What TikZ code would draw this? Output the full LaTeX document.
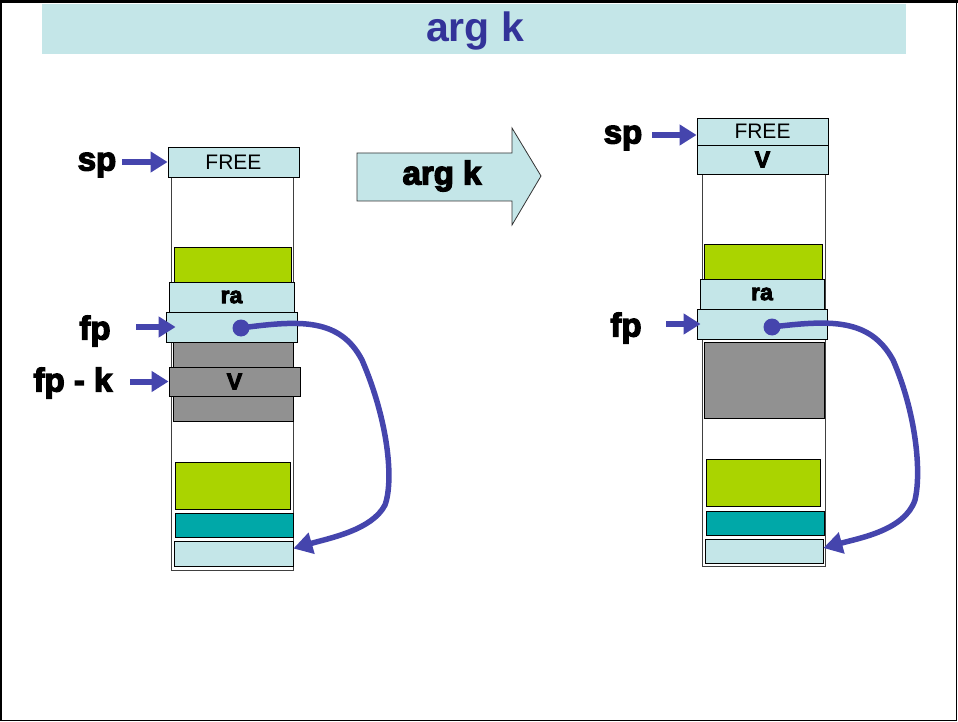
\documentclass[tikz,border=0pt]{standalone}
\usepackage{fontspec}
\setmainfont{Liberation Sans}
\newfontfamily\heavy{Liberation Sans Bold}[FakeBold=4]
\usetikzlibrary{arrows.meta}
\definecolor{paleblue}{HTML}{C4E6E8}
\definecolor{leaf}{HTML}{AAD400}
\definecolor{teal}{HTML}{00A8A8}
\definecolor{slot}{HTML}{919191}
\definecolor{ink}{HTML}{4545AD}
\definecolor{titleink}{HTML}{333399}
\tikzset{
  cell/.style={draw=black, line width=0.8pt, inner sep=0pt, fill=#1},
  column/.style={draw=black!75, line width=0.8pt, fill=white, inner sep=0pt},
  tag/.style={font=\heavy\fontsize{33}{34}\selectfont, inner sep=0pt},
  pointer/.style={draw=ink, line width=6pt, -{Triangle[length=17pt,width=20pt]}},
  link/.style={draw=ink, line width=5.5pt, -{Triangle[length=19pt,width=21pt]}},
  cellbold/.style={font=\heavy\fontsize{23}{24}\selectfont},
  cellplain/.style={font=\fontsize{21}{22}\selectfont}
}
\begin{document}
\begin{tikzpicture}[x=1pt,y=-1pt]
\useasboundingbox (0,0) rectangle (958,722);
% page frame
\draw[line width=1.2pt] (1,2) rectangle (956.5,720.5);
\draw[line width=3pt] (0,1.5) -- (958,1.5);
% title banner
\fill[paleblue] (42,4) rectangle (906,54);
\node[text=titleink, font=\bfseries\fontsize{41}{43}\selectfont] (title) at (475,31) {arg k};

% ---------- stack before ----------
\node[column, minimum width=122pt, minimum height=400pt] (colL) at (232,370) {};
\node[cell=paleblue, minimum width=131pt, minimum height=30pt, cellplain] (freeL) at (233.5,162) {FREE};
\node[cell=leaf, minimum width=117pt, minimum height=35pt] (greenLa) at (232.5,264.5) {};
\node[cell=paleblue, minimum width=125pt, minimum height=30pt, cellbold] (raL) at (231.5,297) {ra};
\node[cell=paleblue, minimum width=131pt, minimum height=30pt] (fpL) at (231.5,327) {};
\node[cell=slot, minimum width=120pt, minimum height=79pt] (grayL) at (233,381.5) {};
\node[cell=slot, minimum width=131pt, minimum height=29pt, cellbold] (vL) at (234.5,381.5) {V};
\node[cell=leaf, minimum width=115pt, minimum height=47pt] (greenLb) at (232.5,485.5) {};
\node[cell=teal, minimum width=118pt, minimum height=24pt] (tealL) at (234,525) {};
\node[cell=paleblue, minimum width=119pt, minimum height=25pt] (lowL) at (233.5,553.5) {};

\node[tag] (spL) at (97,165) {sp};
\node[tag] (fpLt) at (95,331) {fp};
\node[tag] (fpkL) at (73,383) {fp - k};
\coordinate (spLa) at (122,162);
\coordinate (fpLa) at (136,327);
\coordinate (fpkLa) at (130,381.5);
\draw[pointer] (spLa) -- (freeL.west);
\draw[pointer] (fpLa) -- ([xshift=10pt]fpL.west);
\draw[pointer] (fpkLa) -- (vL.west);

\coordinate (dotL) at (241,328);
\fill[ink] (dotL) circle (8.5pt);
\draw[link] (dotL) .. controls (300,320) and (340,318) .. (362,360)
  .. controls (388,420) and (394,480) .. (385,505)
  .. controls (372,530) and (330,538) .. ([yshift=5pt]lowL.east);

% ---------- transition arrow ----------
\draw[fill=paleblue, draw=black!80, line width=0.8pt]
  (357,153) -- (512,153) -- (512,128) -- (541,176) -- (512,225) -- (512,201) -- (357,201) -- cycle;
\node[font=\heavy\fontsize{33}{34}\selectfont] (step) at (442,176) {arg k};

% ---------- stack after ----------
\node[column, minimum width=123pt, minimum height=392pt] (colR) at (763.5,370) {};
\node[cell=paleblue, minimum width=131pt, minimum height=27pt, cellplain] (freeR) at (762.5,131.5) {FREE};
\node[cell=paleblue, minimum width=131pt, minimum height=29pt, cellbold] (vR) at (762.5,159.5) {V};
\node[cell=leaf, minimum width=118pt, minimum height=35pt] (greenRa) at (763,261.5) {};
\node[cell=paleblue, minimum width=124pt, minimum height=30pt, cellbold] (raR) at (762,294) {ra};
\node[cell=paleblue, minimum width=130pt, minimum height=30pt] (fpR) at (762,324) {};
\node[cell=slot, minimum width=120pt, minimum height=76pt] (grayR) at (764,380) {};
\node[cell=leaf, minimum width=114pt, minimum height=47pt] (greenRb) at (763,482.5) {};
\node[cell=teal, minimum width=118pt, minimum height=24pt] (tealR) at (765,523) {};
\node[cell=paleblue, minimum width=118pt, minimum height=24pt] (lowR) at (764,551) {};

\node[tag] (spR) at (623,138) {sp};
\node[tag] (fpRt) at (626,328) {fp};
\coordinate (spRa) at (652,135);
\coordinate (fpRa) at (666,324);
\draw[pointer] (spRa) -- ([yshift=-3.5pt]freeR.west);
\draw[pointer] (fpRa) -- ([xshift=4pt]fpR.west);

\coordinate (dotR) at (772,327);
\fill[ink] (dotR) circle (8.5pt);
\draw[link] (dotR) .. controls (830,320) and (870,318) .. (893,360)
  .. controls (915,410) and (922,470) .. (915,500)
  .. controls (905,530) and (860,538) .. ([yshift=3pt]lowR.east);
\end{tikzpicture}
\end{document}
